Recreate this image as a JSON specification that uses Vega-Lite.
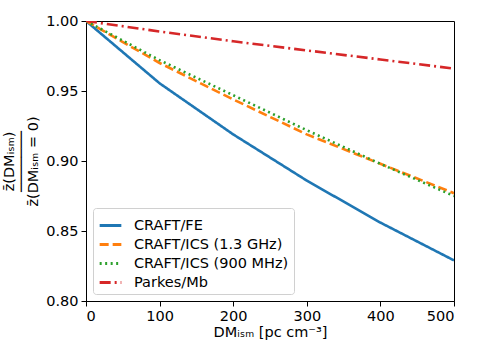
{
  "$schema": "https://vega.github.io/schema/vega-lite/v6.json",
  "width": 368,
  "height": 280,
  "autosize": "none",
  "padding": {"left": 86, "top": 21, "right": 30, "bottom": 62},
  "config": {
    "font": "DejaVu Sans",
    "view": {"stroke": "black", "strokeWidth": 1},
    "axis": {"grid": false, "domainColor": "black", "tickColor": "black", "labelColor": "black", "titleColor": "black", "labelFontSize": 14.5, "titleFontSize": 14.5, "titleFontWeight": "normal", "tickSize": 5, "labelPadding": 3, "labelFont": "DejaVu Sans", "titleFont": "DejaVu Sans"},
    "legend": {"labelFont": "DejaVu Sans", "labelFontSize": 14.5, "labelColor": "black"}
  },
  "data": {"values": [
    {"dm": 0, "ratio": 1.0, "survey": "CRAFT/FE"},
    {"dm": 100, "ratio": 0.9555, "survey": "CRAFT/FE"},
    {"dm": 200, "ratio": 0.919, "survey": "CRAFT/FE"},
    {"dm": 300, "ratio": 0.886, "survey": "CRAFT/FE"},
    {"dm": 400, "ratio": 0.856, "survey": "CRAFT/FE"},
    {"dm": 500, "ratio": 0.829, "survey": "CRAFT/FE"},
    {"dm": 0, "ratio": 1.0, "survey": "CRAFT/ICS (1.3 GHz)"},
    {"dm": 100, "ratio": 0.970, "survey": "CRAFT/ICS (1.3 GHz)"},
    {"dm": 200, "ratio": 0.944, "survey": "CRAFT/ICS (1.3 GHz)"},
    {"dm": 300, "ratio": 0.919, "survey": "CRAFT/ICS (1.3 GHz)"},
    {"dm": 400, "ratio": 0.898, "survey": "CRAFT/ICS (1.3 GHz)"},
    {"dm": 500, "ratio": 0.877, "survey": "CRAFT/ICS (1.3 GHz)"},
    {"dm": 0, "ratio": 1.0, "survey": "CRAFT/ICS (900 MHz)"},
    {"dm": 100, "ratio": 0.972, "survey": "CRAFT/ICS (900 MHz)"},
    {"dm": 200, "ratio": 0.947, "survey": "CRAFT/ICS (900 MHz)"},
    {"dm": 300, "ratio": 0.922, "survey": "CRAFT/ICS (900 MHz)"},
    {"dm": 400, "ratio": 0.898, "survey": "CRAFT/ICS (900 MHz)"},
    {"dm": 500, "ratio": 0.875, "survey": "CRAFT/ICS (900 MHz)"},
    {"dm": 0, "ratio": 1.0, "survey": "Parkes/Mb"},
    {"dm": 100, "ratio": 0.9925, "survey": "Parkes/Mb"},
    {"dm": 200, "ratio": 0.9855, "survey": "Parkes/Mb"},
    {"dm": 300, "ratio": 0.979, "survey": "Parkes/Mb"},
    {"dm": 400, "ratio": 0.9725, "survey": "Parkes/Mb"},
    {"dm": 500, "ratio": 0.966, "survey": "Parkes/Mb"}
  ]},
  "mark": {"type": "line", "strokeWidth": 2.6, "clip": true},
  "encoding": {
    "x": {"field": "dm", "type": "quantitative", "scale": {"domain": [0, 500], "nice": false},
      "axis": {"values": [0, 100, 200, 300, 400, 500], "title": "DMᵢₛₘ [pc cm⁻³]", "titlePadding": 3}},
    "y": {"field": "ratio", "type": "quantitative", "scale": {"domain": [0.8, 1.0], "nice": false, "zero": false},
      "axis": {"values": [0.8, 0.85, 0.9, 0.95, 1.0], "format": ".2f", "title": ["z̄(DMᵢₛₘ)", "───────", "z̄(DMᵢₛₘ = 0)"], "titleLineHeight": 12, "titlePadding": 5}},
    "color": {"field": "survey", "type": "nominal",
      "scale": {"domain": ["CRAFT/FE", "CRAFT/ICS (1.3 GHz)", "CRAFT/ICS (900 MHz)", "Parkes/Mb"], "range": ["#1f77b4", "#ff7f0e", "#2ca02c", "#d62728"]},
      "legend": {"title": null, "orient": "bottom-left", "offset": 7, "symbolType": "stroke", "symbolSize": 470, "symbolStrokeWidth": 3, "strokeColor": "#d0d0d0", "fillColor": "white", "padding": 5, "cornerRadius": 3, "rowPadding": 0, "labelOffset": 11}},
    "strokeDash": {"field": "survey", "type": "nominal",
      "scale": {"domain": ["CRAFT/FE", "CRAFT/ICS (1.3 GHz)", "CRAFT/ICS (900 MHz)", "Parkes/Mb"], "range": [[1, 0], [9, 4], [2, 3.5], [11, 4, 2, 4]]}}
  }
}
